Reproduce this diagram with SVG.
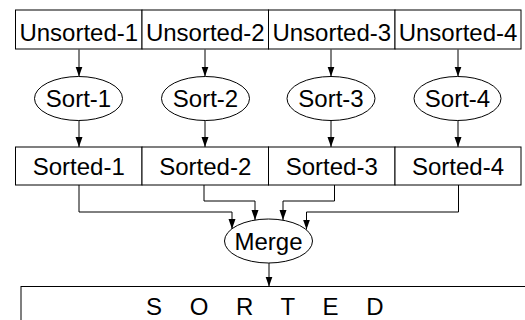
<svg xmlns="http://www.w3.org/2000/svg" width="525" height="320" viewBox="0 0 525 320">
<style>
.box{fill:#fff;stroke:#000;stroke-width:1}
.ell{fill:#fff;stroke:#000;stroke-width:1}
.lbl{font-family:"Liberation Sans",Arial,sans-serif;font-size:24px;fill:#000;text-anchor:middle}
.con{fill:none;stroke:#000;stroke-width:1;marker-end:url(#ah)}
</style>
<defs>
<marker id="ah" markerUnits="userSpaceOnUse" markerWidth="10" markerHeight="8" refX="10" refY="4" orient="auto">
<path d="M0,0.5 L10,4 L0,7.5 z" fill="#000"/>
</marker>
</defs>
<rect width="525" height="320" fill="#fff"/>
<g id="connectors">
<path class="con" d="M79,49.5 V76.5"/>
<path class="con" d="M205,49.5 V76.5"/>
<path class="con" d="M331,49.5 V76.5"/>
<path class="con" d="M458,49.5 V76.5"/>
<path class="con" d="M79,120 V147"/>
<path class="con" d="M205,120 V147"/>
<path class="con" d="M331,120 V147"/>
<path class="con" d="M458,120 V147"/>
<path class="con" d="M79,185 V212 H232 V229"/>
<path class="con" d="M204,185 V201 H255 V220"/>
<path class="con" d="M334.5,185 V201 H283 V220"/>
<path class="con" d="M458.5,185 V212 H306.5 V229.5"/>
<path class="con" d="M269,263 V286.5"/>
</g>
<g id="unsorted-1"><rect class="box" x="15.5" y="10" width="126.5" height="39"/><text class="lbl" x="78.75" y="41">Unsorted-1</text></g>
<g id="unsorted-2"><rect class="box" x="142" y="10" width="126.5" height="39"/><text class="lbl" x="205.25" y="41">Unsorted-2</text></g>
<g id="unsorted-3"><rect class="box" x="268.5" y="10" width="126.5" height="39"/><text class="lbl" x="331.75" y="41">Unsorted-3</text></g>
<g id="unsorted-4"><rect class="box" x="395" y="10" width="126" height="39"/><text class="lbl" x="458" y="41">Unsorted-4</text></g>
<g id="sort-1"><ellipse class="ell" cx="78.5" cy="98.5" rx="44" ry="22"/><text class="lbl" x="78.5" y="107">Sort-1</text></g>
<g id="sort-2"><ellipse class="ell" cx="205.5" cy="98.5" rx="44" ry="22"/><text class="lbl" x="205.5" y="107">Sort-2</text></g>
<g id="sort-3"><ellipse class="ell" cx="331" cy="98.5" rx="44" ry="22"/><text class="lbl" x="331" y="107">Sort-3</text></g>
<g id="sort-4"><ellipse class="ell" cx="457.5" cy="98.5" rx="43.5" ry="22"/><text class="lbl" x="457.5" y="107">Sort-4</text></g>
<g id="sorted-1"><rect class="box" x="15.5" y="147" width="126.5" height="38"/><text class="lbl" x="78.75" y="175">Sorted-1</text></g>
<g id="sorted-2"><rect class="box" x="142" y="147" width="126.5" height="38"/><text class="lbl" x="205.25" y="175">Sorted-2</text></g>
<g id="sorted-3"><rect class="box" x="268.5" y="147" width="126.5" height="38"/><text class="lbl" x="331.75" y="175">Sorted-3</text></g>
<g id="sorted-4"><rect class="box" x="395" y="147" width="126" height="38"/><text class="lbl" x="458" y="175">Sorted-4</text></g>
<g id="merge"><ellipse class="ell" cx="268.5" cy="241" rx="44" ry="22"/><text class="lbl" x="268.5" y="250">Merge</text></g>
<g id="sorted"><rect class="box" x="21" y="286.5" width="520" height="50"/><text class="lbl" x="270" y="314.5" letter-spacing="10.5">S O R T E D</text></g>
</svg>
